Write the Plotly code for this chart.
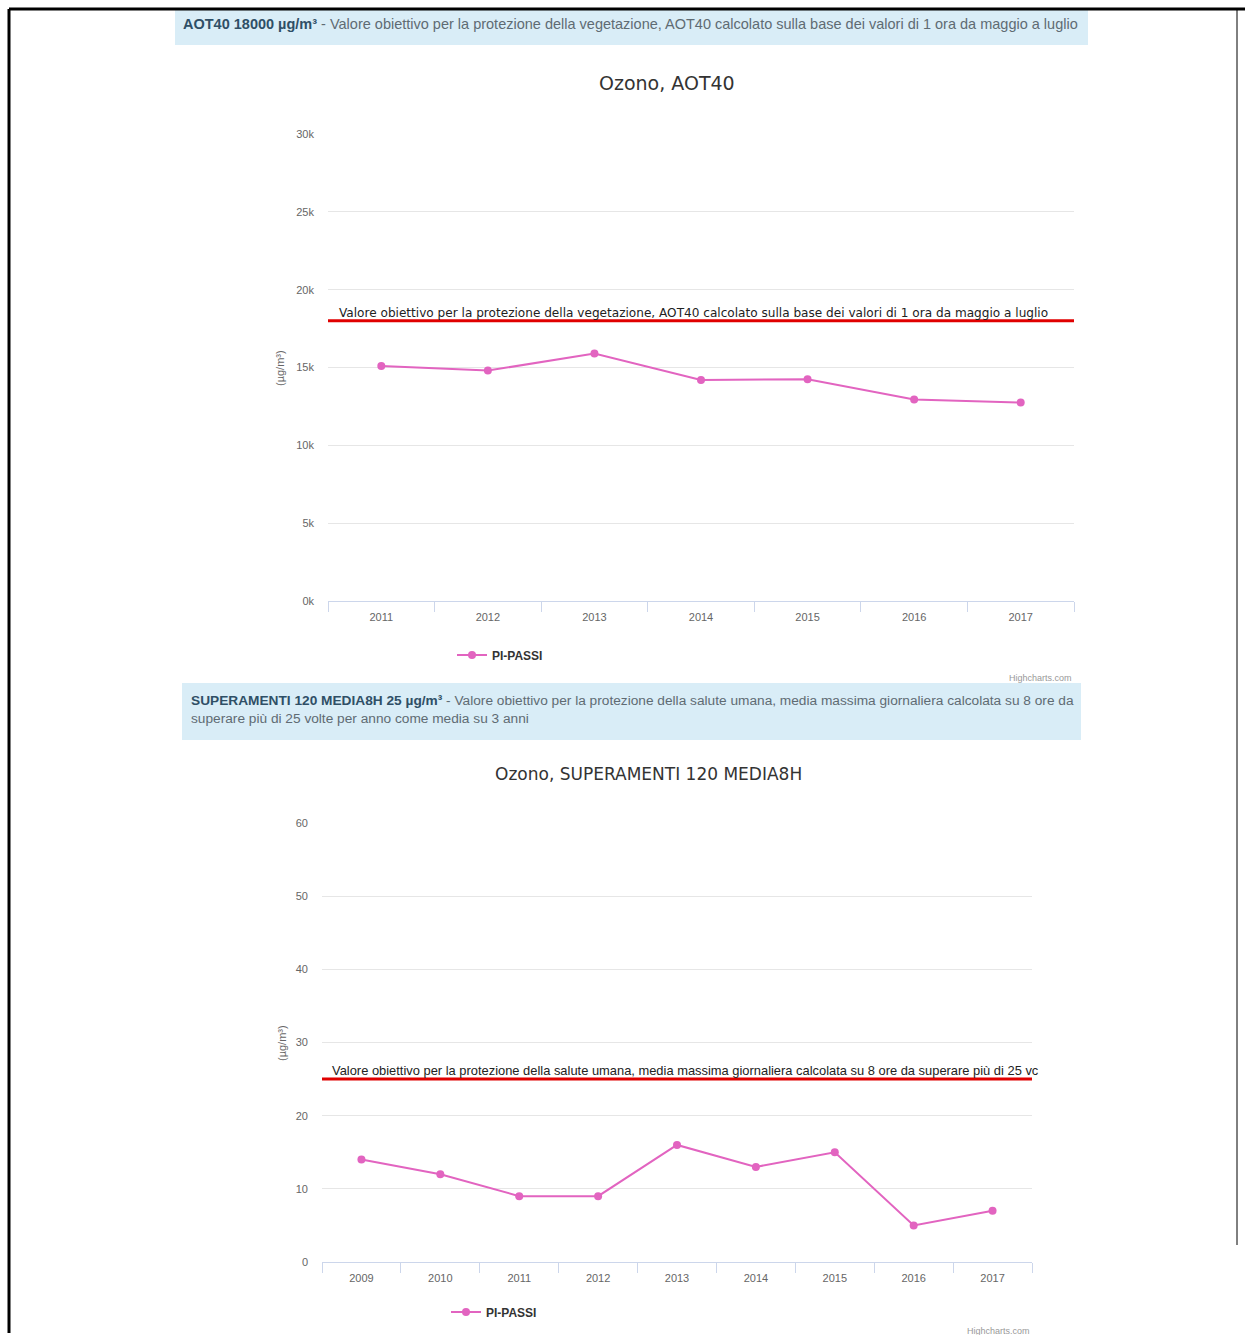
import plotly.graph_objects as go

W, H = 1245, 1335

# ---------------- data ----------------
years1 = ["2011", "2012", "2013", "2014", "2015", "2016", "2017"]
aot40 = [15100, 14800, 15900, 14200, 14250, 12950, 12750]
aot40_target = 18000
y1_ticks = [0, 5000, 10000, 15000, 20000, 25000, 30000]
y1_labels = ["0k", "5k", "10k", "15k", "20k", "25k", "30k"]

years2 = ["2009", "2010", "2011", "2012", "2013", "2014", "2015", "2016", "2017"]
superamenti = [14, 12, 9, 9, 16, 13, 15, 5, 7]
sup_target = 25
y2_ticks = [0, 10, 20, 30, 40, 50, 60]
y2_labels = ["0", "10", "20", "30", "40", "50", "60"]

series_name = "PI-PASSI"
title1 = "Ozono, AOT40"
title2 = "Ozono, SUPERAMENTI 120 MEDIA8H"
plotline1 = "Valore obiettivo per la protezione della vegetazione, AOT40 calcolato sulla base dei valori di 1 ora da maggio a luglio"
plotline2 = "Valore obiettivo per la protezione della salute umana, media massima giornaliera calcolata su 8 ore da superare più di 25 vc"
box1_bold = "AOT40 18000 µg/m³"
box1_text = " - Valore obiettivo per la protezione della vegetazione, AOT40 calcolato sulla base dei valori di 1 ora da maggio a luglio"
box2_bold = "SUPERAMENTI 120 MEDIA8H 25 µg/m³"
box2_text1 = " - Valore obiettivo per la protezione della salute umana, media massima giornaliera calcolata su 8 ore da"
box2_text2 = "superare più di 25 volte per anno come media su 3 anni"
ytitle = "(µg/m³)"

# ---------------- helpers ----------------
def px(x):
    return x / W

def py(y):
    return 1 - y / H

PINK = "#e264c0"
GRID = "#e6e6e6"
AXIS = "#ccd6eb"
LABEL = "#666666"
FONT = "DejaVu Sans"
SANS = "Liberation Sans"

fig = go.Figure()

fig.add_trace(go.Scatter(x=years1, y=aot40, mode="lines+markers", name=series_name,
                         line=dict(color=PINK, width=2), marker=dict(size=8, color=PINK),
                         xaxis="x", yaxis="y", legend="legend"))
fig.add_trace(go.Scatter(x=years2, y=superamenti, mode="lines+markers", name=series_name,
                         line=dict(color=PINK, width=2), marker=dict(size=8, color=PINK),
                         xaxis="x2", yaxis="y2", legend="legend2"))

xcommon = dict(type="category", showgrid=False, showline=True, linecolor=AXIS, linewidth=1,
               ticks="outside", tickson="boundaries", ticklen=10, tickcolor=AXIS,
               tickfont=dict(family=SANS, size=11, color=LABEL), zeroline=False,
               fixedrange=True, automargin=False, ticklabelstandoff=6)
ycommon = dict(showgrid=True, gridcolor=GRID, gridwidth=1, zeroline=False, showline=False,
               tickfont=dict(family=SANS, size=11, color=LABEL), ticks="",
               ticklabelstandoff=13, fixedrange=True, automargin=False)

fig.update_layout(
    template="none",
    width=W, height=H, margin=dict(l=0, r=0, t=0, b=0, pad=0), autosize=False,
    paper_bgcolor="white", plot_bgcolor="white",
    xaxis=dict(xcommon, domain=[px(328), px(1074)], anchor="y", range=[-0.5, 6.5]),
    yaxis=dict(ycommon, domain=[py(601), py(134)], anchor="x", range=[0, 30000],
               tickvals=y1_ticks, ticktext=y1_labels),
    xaxis2=dict(xcommon, domain=[px(322), px(1032)], anchor="y2", range=[-0.5, 8.5]),
    yaxis2=dict(ycommon, domain=[py(1262), py(823)], anchor="x2", range=[0, 60],
                tickvals=y2_ticks, ticktext=y2_labels),
    legend=dict(x=px(452), y=py(655), xanchor="left", yanchor="middle", orientation="h",
                font=dict(family=SANS, size=12, color="#333333", weight="bold"),
                bgcolor="rgba(0,0,0,0)", itemwidth=30),
    legend2=dict(x=px(446), y=py(1312), xanchor="left", yanchor="middle", orientation="h",
                 font=dict(family=SANS, size=12, color="#333333", weight="bold"),
                 bgcolor="rgba(0,0,0,0)", itemwidth=30),
    showlegend=True,
)

shapes = []
# page border (top, left, right)
shapes.append(dict(type="line", xref="paper", yref="paper", x0=px(9), x1=1, y0=py(9), y1=py(9),
                   line=dict(color="black", width=3)))
shapes.append(dict(type="line", xref="paper", yref="paper", x0=px(9), x1=px(9), y0=py(9), y1=py(1333),
                   line=dict(color="black", width=3)))
shapes.append(dict(type="line", xref="paper", yref="paper", x0=px(1237), x1=px(1237), y0=py(9), y1=py(1245),
                   line=dict(color="black", width=1)))
# info boxes
shapes.append(dict(type="rect", xref="paper", yref="paper", x0=px(175), x1=px(1088), y0=py(45), y1=py(10),
                   fillcolor="#d9edf7", line=dict(width=0), layer="below"))
shapes.append(dict(type="rect", xref="paper", yref="paper", x0=px(182), x1=px(1081), y0=py(740), y1=py(683),
                   fillcolor="#d9edf7", line=dict(width=0), layer="below"))
# red plot lines
shapes.append(dict(type="line", xref="x domain", yref="y", x0=0, x1=1, y0=aot40_target, y1=aot40_target,
                   line=dict(color="#e00000", width=3)))
shapes.append(dict(type="line", xref="x2 domain", yref="y2", x0=0, x1=1, y0=sup_target, y1=sup_target,
                   line=dict(color="#e00000", width=3)))
fig.update_layout(shapes=shapes)

ann = []
ann.append(dict(xref="paper", yref="paper", x=px(181), y=py(24), xanchor="left", yanchor="middle",
                text=f"<b>{box1_bold}</b><span style='color:#5f6b73'>{box1_text}</span>",
                showarrow=False, font=dict(family=SANS, size=14.5, color="#2f4f66")))
ann.append(dict(xref="paper", yref="paper", x=px(189), y=py(709), xanchor="left", yanchor="middle",
                text=f"<b>{box2_bold}</b><span style='color:#5f6b73'>{box2_text1}<br>{box2_text2}</span>",
                showarrow=False, align="left", font=dict(family=SANS, size=13.7, color="#2f4f66")))
ann.append(dict(xref="paper", yref="paper", x=px(667), y=py(83), xanchor="center", yanchor="middle",
                text=title1, showarrow=False, font=dict(family=FONT, size=19, color="#333333")))
ann.append(dict(xref="paper", yref="paper", x=px(649), y=py(774), xanchor="center", yanchor="middle",
                text=title2, showarrow=False, font=dict(family=FONT, size=17, color="#333333")))
ann.append(dict(xref="paper", yref="y", x=px(337), y=aot40_target, xanchor="left", yanchor="bottom",
                yshift=-1, text=plotline1, showarrow=False,
                font=dict(family=FONT, size=12.1, color="#222222")))
ann.append(dict(xref="paper", yref="y2", x=px(330), y=sup_target, xanchor="left", yanchor="bottom",
                yshift=-1, text=plotline2, showarrow=False,
                font=dict(family=SANS, size=12.9, color="#222222")))
ann.append(dict(xref="paper", yref="paper", x=px(280), y=py(368), textangle=-90, xanchor="center",
                yanchor="middle", text=ytitle, showarrow=False,
                font=dict(family=SANS, size=11, color=LABEL)))
ann.append(dict(xref="paper", yref="paper", x=px(282), y=py(1043), textangle=-90, xanchor="center",
                yanchor="middle", text=ytitle, showarrow=False,
                font=dict(family=SANS, size=11, color=LABEL)))
ann.append(dict(xref="paper", yref="paper", x=px(1074), y=py(678), xanchor="right", yanchor="middle",
                text="Highcharts.com", showarrow=False, font=dict(family=SANS, size=9, color="#999999")))
ann.append(dict(xref="paper", yref="paper", x=px(1032), y=py(1331), xanchor="right", yanchor="middle",
                text="Highcharts.com", showarrow=False, font=dict(family=SANS, size=9, color="#999999")))
fig.update_layout(annotations=ann)

fig.write_html("out.html", config={"displayModeBar": False},
               post_script="document.body.style.margin='0';")
